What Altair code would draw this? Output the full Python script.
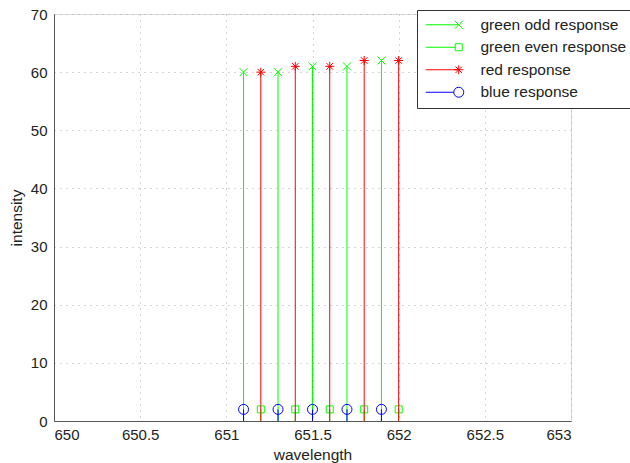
import altair as alt
import pandas as pd

series_names = ["green odd response", "green even response", "red response", "blue response"]
series_colors = ["#00ff00", "#00ff00", "#ff0000", "#0000ff"]

green_odd_x = [651.1, 651.3, 651.5, 651.7, 651.9]
green_odd_y = [60, 60, 61, 61, 62]
green_even_x = [651.2, 651.4, 651.6, 651.8, 652.0]
green_even_y = [2, 2, 2, 2, 2]
red_x = [651.2, 651.4, 651.6, 651.8, 652.0]
red_y = [60, 61, 61, 62, 62]
blue_x = [651.1, 651.3, 651.5, 651.7, 651.9]
blue_y = [2, 2, 2, 2, 2]

x_ticks = [650, 650.5, 651, 651.5, 652, 652.5, 653]
y_ticks = [0, 10, 20, 30, 40, 50, 60, 70]

# marker shapes (unit paths) for plot and legend (line + marker)
marker_paths = [
    "M-0.8,-0.8L0.8,0.8M-0.8,0.8L0.8,-0.8",
    "M-0.7,-0.7H0.7V0.7H-0.7Z",
    "M-0.9,0H0.9M0,-0.9V0.9M-0.65,-0.65L0.65,0.65M-0.65,0.65L0.65,-0.65",
    "circle",
]
legend_paths = [
    "M-6.6,0H0M-0.8,-0.8L0.8,0.8M-0.8,0.8L0.8,-0.8",
    "M-6.6,0H-0.7M-0.7,-0.7H0.7V0.7H-0.7Z",
    "M-6.6,0H0M-0.9,0H0.9M0,-0.9V0.9M-0.65,-0.65L0.65,0.65M-0.65,0.65L0.65,-0.65",
    "M-6.6,0H-1M1,0A1,1 0 1,1 -1,0A1,1 0 1,1 1,0",
]

xs = [green_odd_x, green_even_x, red_x, blue_x]
ys = [green_odd_y, green_even_y, red_y, blue_y]
rows = []
for name, xv, yv in zip(series_names, xs, ys):
    for a, b in zip(xv, yv):
        rows.append({"series": name, "wavelength": a, "intensity": b})
df = pd.DataFrame(rows)

FONT = "Liberation Sans"

x_enc = alt.X("wavelength:Q",
              scale=alt.Scale(domain=[650, 653], nice=False, zero=False),
              axis=alt.Axis(values=x_ticks, format="~f", title="wavelength",
                            grid=True, gridDash=[1, 5], gridColor="#aaaaaa",
                            domainColor="#555555", ticks=False, labelPadding=6,
                            labelFontSize=15, titleFontSize=15.5, titleFontWeight="normal",
                            labelFont=FONT, titleFont=FONT, titlePadding=5,
                            labelColor="#222222", titleColor="#222222"))
y_enc = alt.Y("intensity:Q",
              scale=alt.Scale(domain=[0, 70], nice=False),
              axis=alt.Axis(values=y_ticks, title="intensity",
                            grid=True, gridDash=[1, 5], gridColor="#aaaaaa",
                            domainColor="#555555", ticks=False, labelPadding=7,
                            labelFontSize=15, titleFontSize=15.5, titleFontWeight="normal",
                            labelFont=FONT, titleFont=FONT, titlePadding=6,
                            labelColor="#222222", titleColor="#222222"))

base = alt.Chart(df)
layers = []
for name, col, path in zip(series_names, series_colors, marker_paths):
    sub = base.transform_filter(alt.datum.series == name)
    stems = sub.mark_rule(color=col, strokeWidth=1).encode(
        x=x_enc, y=y_enc, y2=alt.datum(0))
    marks = sub.mark_point(shape=path, size=100, filled=False, color=col,
                           strokeWidth=1, opacity=1).encode(x=x_enc, y=y_enc)
    layers += [stems, marks]

leg = dict(title=None, orient="none", legendX=363, legendY=-4,
           labelFont=FONT, labelFontSize=15.5, labelColor="#222222",
           symbolSize=100, symbolStrokeWidth=1, symbolOpacity=1,
           symbolFillColor="transparent", symbolOffset=27, labelOffset=14,
           rowPadding=5.5, padding=7, fillColor="white", strokeColor="#333333")

legend_layer = base.mark_point(filled=False, opacity=0, size=100).encode(
    x=x_enc, y=y_enc,
    color=alt.Color("series:N", scale=alt.Scale(domain=series_names, range=series_colors),
                    sort=series_names, legend=alt.Legend(**leg)),
    shape=alt.Shape("series:N", scale=alt.Scale(domain=series_names, range=legend_paths),
                    sort=series_names, legend=alt.Legend(**leg)),
)
layers.append(legend_layer)

chart = alt.layer(*layers).properties(
    width=517, height=407,
    autosize=alt.AutoSizeParams(type="none"),
    padding={"left": 54, "top": 14, "right": 59, "bottom": 42},
).configure_view(stroke=None).configure(background="white")

chart.save("out.html", embed_options={"renderer": "svg", "actions": False})
